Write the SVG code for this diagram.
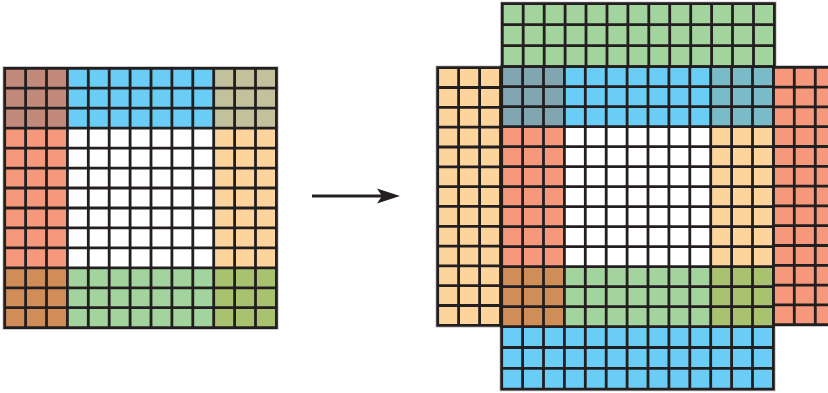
<svg xmlns="http://www.w3.org/2000/svg" width="828" height="393" viewBox="0 0 828 393">
<style>
.grid{fill:none;stroke:#231F20;stroke-width:2.8;stroke-linecap:square}
.halo{fill:none;stroke:#c4c4c4;stroke-width:4.4}
.bp{fill:#C28A7B}.bl{fill:#6ACDF5}.og{fill:#C1C19B}.sa{fill:#F5987B}.tn{fill:#FDD59C}
.br{fill:#D08D58}.gr{fill:#A3D49D}.ol{fill:#A8C26F}.gb{fill:#81A6B1}.te{fill:#79BBC6}
</style>
<defs>
<marker id="ah" markerWidth="24" markerHeight="16" refX="8" refY="8" orient="auto" markerUnits="userSpaceOnUse">
<path d="M23,8 L0,0.5 L5,8 L0,15.5 Z" fill="#231F20"/>
</marker>
</defs>
<rect width="828" height="393" fill="#fff"/>
<g id="halos">
<rect class="halo" x="4.7" y="68.3" width="271.7" height="259.3"/>
<rect class="halo" x="502.3" y="3.7" width="272.1" height="63"/>
<rect class="halo" x="437.7" y="67.7" width="62.8" height="257.7"/>
<rect class="halo" x="773.4" y="67.3" width="62.8" height="257.4"/>
<rect class="halo" x="501.7" y="66.7" width="271.7" height="322.4"/>
</g>
<g id="source-grid">
<rect class="bp" x="4.7" y="68.3" width="62.7" height="59.9"/>
<rect class="bl" x="67.4" y="68.3" width="146.3" height="59.9"/>
<rect class="og" x="213.7" y="68.3" width="62.7" height="59.9"/>
<rect class="sa" x="4.7" y="128.2" width="62.7" height="139.6"/>
<rect class="tn" x="213.7" y="128.2" width="62.7" height="139.6"/>
<rect class="br" x="4.7" y="267.8" width="62.7" height="59.8"/>
<rect class="gr" x="67.4" y="267.8" width="146.3" height="59.8"/>
<rect class="ol" x="213.7" y="267.8" width="62.7" height="59.8"/>
<path class="grid" d="M4.7 68.3V327.6M25.6 68.3V327.6M46.5 68.3V327.6M67.4 68.3V327.6M88.3 68.3V327.6M109.2 68.3V327.6M130.1 68.3V327.6M151 68.3V327.6M171.9 68.3V327.6M192.8 68.3V327.6M213.7 68.3V327.6M234.6 68.3V327.6M255.5 68.3V327.6M276.4 68.3V327.6M4.7 68.3H276.4M4.7 88.2H276.4M4.7 108.2H276.4M4.7 128.2H276.4M4.7 148.1H276.4M4.7 168.1H276.4M4.7 188H276.4M4.7 208H276.4M4.7 227.9H276.4M4.7 247.9H276.4M4.7 267.8H276.4M4.7 287.8H276.4M4.7 307.7H276.4M4.7 327.6H276.4"/>
</g>
<g id="pad-top">
<rect class="gr" x="502.3" y="3.7" width="272.1" height="63"/>
<path class="grid" d="M502.3 3.7V66.7M523.2 3.7V66.7M544.2 3.7V66.7M565.1 3.7V66.7M586 3.7V66.7M607 3.7V66.7M627.9 3.7V66.7M648.8 3.7V66.7M669.7 3.7V66.7M690.7 3.7V66.7M711.6 3.7V66.7M732.5 3.7V66.7M753.5 3.7V66.7M774.4 3.7V66.7M502.3 3.7H774.4M502.3 24.7H774.4M502.3 45.7H774.4M502.3 66.7H774.4"/>
</g>
<g id="pad-left">
<rect class="tn" x="437.7" y="67.7" width="62.8" height="257.7"/>
<path class="grid" d="M437.7 67.7V325.4M458.6 67.7V325.4M479.6 67.7V325.4M500.5 67.7V325.4M437.7 67.7H500.5M437.7 87.5H500.5M437.7 107.3H500.5M437.7 127.2H500.5M437.7 147H500.5M437.7 166.8H500.5M437.7 186.6H500.5M437.7 206.4H500.5M437.7 226.3H500.5M437.7 246.1H500.5M437.7 265.9H500.5M437.7 285.7H500.5M437.7 305.5H500.5M437.7 325.4H500.5"/>
</g>
<g id="pad-right">
<rect class="sa" x="773.4" y="67.3" width="62.8" height="257.4"/>
<path class="grid" d="M773.4 67.3V324.7M794.3 67.3V324.7M815.3 67.3V324.7M836.2 67.3V324.7M773.4 67.3H836.2M773.4 87.1H836.2M773.4 106.9H836.2M773.4 126.7H836.2M773.4 146.5H836.2M773.4 166.3H836.2M773.4 186.1H836.2M773.4 205.9H836.2M773.4 225.7H836.2M773.4 245.5H836.2M773.4 265.3H836.2M773.4 285.1H836.2M773.4 304.9H836.2M773.4 324.7H836.2"/>
</g>
<g id="pad-bottom">
<rect class="bl" x="501.7" y="326.7" width="271.7" height="62.4"/>
<path class="grid" d="M501.7 326.7V389.1M522.6 326.7V389.1M543.5 326.7V389.1M564.4 326.7V389.1M585.3 326.7V389.1M606.2 326.7V389.1M627.1 326.7V389.1M648 326.7V389.1M668.9 326.7V389.1M689.8 326.7V389.1M710.7 326.7V389.1M731.6 326.7V389.1M752.5 326.7V389.1M773.4 326.7V389.1M501.7 326.7H773.4M501.7 347.5H773.4M501.7 368.3H773.4M501.7 389.1H773.4"/>
</g>
<g id="padded-grid">
<rect class="gb" x="501.7" y="66.7" width="62.7" height="60"/>
<rect class="bl" x="564.4" y="66.7" width="146.3" height="60"/>
<rect class="te" x="710.7" y="66.7" width="62.7" height="60"/>
<rect class="sa" x="501.7" y="126.7" width="62.7" height="140"/>
<rect class="tn" x="710.7" y="126.7" width="62.7" height="140"/>
<rect class="br" x="501.7" y="266.7" width="62.7" height="60"/>
<rect class="gr" x="564.4" y="266.7" width="146.3" height="60"/>
<rect class="ol" x="710.7" y="266.7" width="62.7" height="60"/>
<path class="grid" d="M501.7 66.7V326.7M522.6 66.7V326.7M543.5 66.7V326.7M564.4 66.7V326.7M585.3 66.7V326.7M606.2 66.7V326.7M627.1 66.7V326.7M648 66.7V326.7M668.9 66.7V326.7M689.8 66.7V326.7M710.7 66.7V326.7M731.6 66.7V326.7M752.5 66.7V326.7M773.4 66.7V326.7M501.7 66.7H773.4M501.7 86.7H773.4M501.7 106.7H773.4M501.7 126.7H773.4M501.7 146.7H773.4M501.7 166.7H773.4M501.7 186.7H773.4M501.7 206.7H773.4M501.7 226.7H773.4M501.7 246.7H773.4M501.7 266.7H773.4M501.7 286.7H773.4M501.7 306.7H773.4M501.7 326.7H773.4"/>
</g>
<g id="connectors">
<path d="M312 196H385" stroke="#231F20" stroke-width="3.2" fill="none" marker-end="url(#ah)"/>
</g>
</svg>
